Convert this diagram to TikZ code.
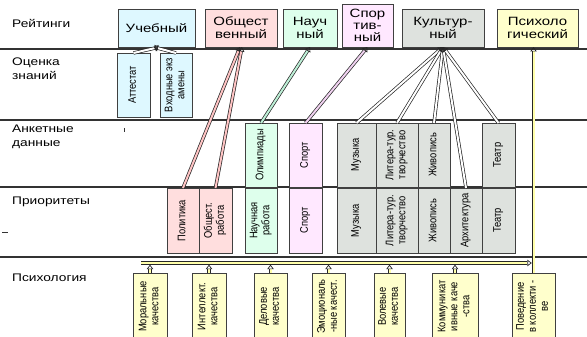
\documentclass[tikz,border=0pt]{standalone}
\usepackage{fontspec}
\setmainfont{Liberation Sans}[FakeStretch=1.25]
\newfontfamily\narrowfont{Liberation Sans}[FakeStretch=0.85]
\usepackage{graphicx}
\usetikzlibrary{positioning,arrows.meta}

\definecolor{cUcheb}{RGB}{222,248,255}
\definecolor{cObsh}{RGB}{255,222,222}
\definecolor{cObshL}{RGB}{255,196,196}
\definecolor{cNauch}{RGB}{222,255,236}
\definecolor{cNauchL}{RGB}{190,240,215}
\definecolor{cSport}{RGB}{255,232,255}
\definecolor{cSportL}{RGB}{240,210,240}
\definecolor{cKult}{RGB}{222,226,222}
\definecolor{cPsy}{RGB}{255,255,204}
\definecolor{cPsyL}{RGB}{255,255,170}

% rotated label inside a tall box
\newcommand\vtxt[1]{\rotatebox{90}{\narrowfont\fontsize{11}{12}\selectfont
  \begin{tabular}{@{}c@{}}#1\end{tabular}}}

\begin{document}
\begin{tikzpicture}[
    x=1pt, y=-1pt,
    base/.style={rectangle, draw=black!75, line width=0.7pt, inner sep=0pt,
                 outer sep=0pt, anchor=north west, align=center},
    Bucheb/.style={base, fill=cUcheb},
    Bobsh/.style= {base, fill=cObsh},
    Bnauch/.style={base, fill=cNauch},
    Bsport/.style={base, fill=cSport},
    Bkult/.style= {base, fill=cKult},
    Bpsy/.style=  {base, fill=cPsy},
    top/.style={font=\fontsize{12}{13}\selectfont, minimum height=38pt},
    ank/.style={minimum height=64pt},
    pri/.style={minimum height=65pt},
    psy/.style={Bpsy, minimum height=67pt},
    rowlbl/.style={anchor=west, align=left, inner sep=0pt,
                   font=\fontsize{11}{14}\selectfont},
    rline/.style={line width=1.3pt, black!80},
    arr/.style={draw=black!85, line width=0.7pt, double distance=2pt,
                -{Triangle[open, length=4.5pt, width=6.5pt]}},
]
\useasboundingbox (0,0) rectangle (587,337);

% row separators
\foreach \yy in {49,120,187,257}
  \draw[rline] (0,\yy) -- (587,\yy);

% row labels
\node[rowlbl] (lRate)  at (12,23)  {Рейтинги};
\node[rowlbl] (lOcen)  at (12,69)  {Оценка\\знаний};
\node[rowlbl] (lAnk)   at (12,137) {Анкетные\\данные};
\node[rowlbl] (lPrior) at (12,202) {Приоритеты};
\node[rowlbl] (lPsy)   at (12,278) {Психология};

% ratings
\node[Bucheb, top, minimum width=77pt] (ucheb) at (118,9) {Учебный};
\node[Bobsh,  top, minimum width=72pt] (obsh)  at (205,9) {Общест\\венный};
\node[Bnauch, top, minimum width=54pt] (nauch) at (283,9) {Науч\\ный};
\node[Bsport, top, minimum width=51pt, minimum height=43pt,
      font=\fontsize{12}{12}\selectfont] (sport) at (342,4) {Спор\\тив-\\ный};
\node[Bkult,  top, minimum width=82pt] (kult)  at (402,9) {Культур-\\ный};
\node[Bpsy,   top, minimum width=81pt] (psych) at (497,9) {Психоло\\гический};

% knowledge
\node[Bucheb, minimum width=33pt, minimum height=64pt] (attest) at (117,53) {\vtxt{Аттестат}};
\node[Bucheb, minimum width=32pt, minimum height=64pt] (vkhod)  at (160,53) {\vtxt{Входные экз\\амены}};

% questionnaire
\node[Bnauch, ank, minimum width=32pt] (olimp)  at (245,123) {\vtxt{Олимпиады}};
\node[Bsport, ank, minimum width=33pt] (sportA) at (289,123) {\vtxt{Спорт}};
\node[Bkult,  ank, minimum width=39pt] (muzA)   at (337,123) {\vtxt{Музыка}};
\node[Bkult,  ank, minimum width=42pt, right=0pt of muzA] (litA) {\vtxt{Литера-тур.\\творчество}};
\node[Bkult,  ank, minimum width=32pt, right=0pt of litA] (zhivA) {\vtxt{Живопись}};
\node[Bkult,  ank, minimum width=33pt] (teatrA) at (482,123) {\vtxt{Театр}};

% priorities
\node[Bobsh,  pri, minimum width=32pt] (polit)  at (167,188) {\vtxt{Политика}};
\node[Bobsh,  pri, minimum width=33pt, right=0pt of polit] (obshR) {\vtxt{Общест.\\работа}};
\node[Bnauch, pri, minimum width=32pt] (nauchR) at (245,188) {\vtxt{Научная\\работа}};
\node[Bsport, pri, minimum width=33pt] (sportR) at (289,188) {\vtxt{Спорт}};
\node[Bkult,  pri, minimum width=39pt] (muzR)   at (337,188) {\vtxt{Музыка}};
\node[Bkult,  pri, minimum width=42pt, right=0pt of muzR]  (litR)   {\vtxt{Литера-тур.\\творчество}};
\node[Bkult,  pri, minimum width=32pt, right=0pt of litR]  (zhivR)  {\vtxt{Живопись}};
\node[Bkult,  pri, minimum width=32pt, right=0pt of zhivR] (arkh)   {\vtxt{Архитектура}};
\node[Bkult,  pri, minimum width=33pt, right=0pt of arkh]  (teatrR) {\vtxt{Театр}};

% psychology
\node[psy, minimum width=34pt] (moral)  at (133,273) {\vtxt{Моральные\\качества}};
\node[psy, minimum width=34pt] (intel)  at (192,273) {\vtxt{Интеллект.\\качества}};
\node[psy, minimum width=33pt] (delov)  at (254,273) {\vtxt{Деловые\\качества}};
\node[psy, minimum width=33pt] (emoc)   at (312,273) {\vtxt{Эмоциональ\\-ные качест.}};
\node[psy, minimum width=31pt] (volev)  at (374,273) {\vtxt{Волевые\\качества}};
\node[psy, minimum width=46pt] (kommun) at (432,273) {\vtxt{Коммуникат\\ивные каче\\-ства}};
\node[psy, minimum width=43pt] (povd)   at (512,273) {\vtxt{Поведение\\в коллекти -\\ве}};

\coordinate (barL) at (141,263);

% stray marks
\draw[black!80, line width=0.6pt] (124,128) -- (124,132);
\draw[black!80, line width=0.6pt] (2,232) -- (8,232);

% links
\draw[arr, double=white] (attest.north) -- ([xshift=3pt]ucheb.south);
\draw[arr, double=white] (vkhod.north)  -- ([xshift=-3pt]ucheb.south);
\draw[arr, double=cObshL] (polit.north) -- ([xshift=-1pt]obsh.south);
\draw[arr, double=cObshL] (obshR.north) -- ([xshift=1pt]obsh.south);
\draw[arr, double=cNauchL] (olimp.north)  -- (nauch.south);
\draw[arr, double=cSportL] (sportA.north) -- (sport.south);
\foreach \n in {muzA,litA,zhivA,arkh,teatrA}
  \draw[arr, double=white] (\n.north) -- (kult.south);
\draw[arr, double=cPsyL, shorten >=1.7pt] (barL) -- (barL -| povd.north);
\foreach \n in {moral,intel,delov,emoc,volev,kommun}
  \draw[arr, double=cPsyL, shorten >=1.7pt] (\n.north) -- (\n.north |- barL);
\draw[arr, double=cPsyL] (povd.north) -- (povd.north |- psych.south);
\end{tikzpicture}
\end{document}
